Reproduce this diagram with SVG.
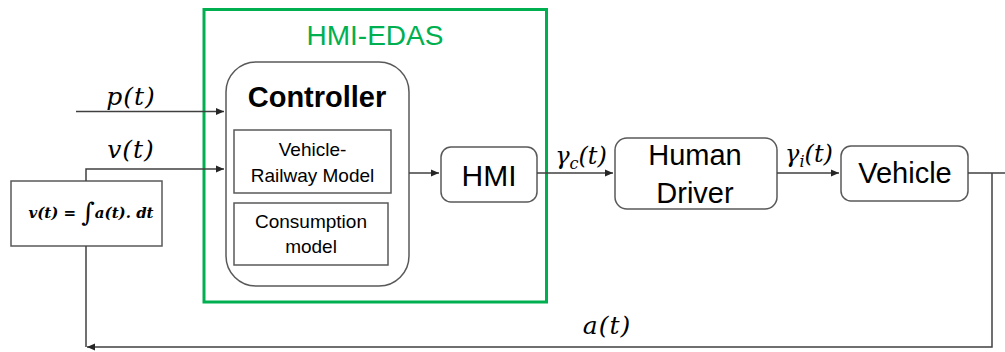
<svg xmlns="http://www.w3.org/2000/svg" width="1005" height="352" viewBox="0 0 1005 352">
<style>
.box{fill:#fff;stroke:#595959;stroke-width:1.5}
.ln{fill:none;stroke:#404040;stroke-width:1.5}
.t{font-family:"Liberation Sans",Arial,sans-serif;fill:#000;text-anchor:middle}
.m{font-family:"DejaVu Serif","Liberation Serif",serif;font-style:italic;fill:#000;text-anchor:middle}
</style>
<defs>
<marker id="ah" markerUnits="userSpaceOnUse" markerWidth="9" markerHeight="8" refX="8" refY="4" orient="auto">
<path d="M0,0.5 L8,4 L0,7.5 Z" fill="#262626"/>
</marker>
</defs>
<rect width="1005" height="352" fill="#fff"/>
<g id="hmi-edas">
<rect x="204" y="9.5" width="342.5" height="292.5" fill="none" stroke="#00b050" stroke-width="3"/>
<text x="375" y="45" class="t" style="fill:#00b050;font-size:28px">HMI-EDAS</text>
</g>
<g id="controller">
<rect x="226" y="62" width="183" height="224" rx="30" class="box"/>
<text x="317" y="107" class="t" style="font-size:29px;font-weight:bold">Controller</text>
</g>
<g id="vehicle-railway-model">
<rect x="234" y="130" width="157" height="63" class="box"/>
<text x="312.5" y="156" class="t" style="font-size:19px">Vehicle-</text>
<text x="312.5" y="182" class="t" style="font-size:19px">Railway Model</text>
</g>
<g id="consumption-model">
<rect x="234" y="203" width="154" height="62" class="box"/>
<text x="311" y="228" class="t" style="font-size:19px">Consumption</text>
<text x="311" y="253" class="t" style="font-size:19px">model</text>
</g>
<g id="hmi">
<rect x="441" y="147" width="96" height="55" rx="10" class="box"/>
<text x="489" y="186" class="t" style="font-size:30px">HMI</text>
</g>
<g id="human-driver">
<rect x="615" y="138" width="162" height="71" rx="12" class="box"/>
<text x="695" y="165" class="t" style="font-size:29px">Human</text>
<text x="695" y="203" class="t" style="font-size:29px">Driver</text>
</g>
<g id="vehicle">
<rect x="841" y="146" width="127" height="55" rx="10" class="box"/>
<text x="905" y="183" class="t" style="font-size:29px">Vehicle</text>
</g>
<g id="integrator">
<rect x="11" y="181" width="151" height="65" class="box"/>
<text x="91" y="218" class="m" style="font-size:15px;font-weight:bold">v(t) = <tspan style="font-size:26px;font-weight:normal;font-style:normal" dy="3">∫</tspan><tspan dy="-3">a(t). dt</tspan></text>
</g>
<g id="connectors">
<path d="M76,111.5 H224" class="ln" marker-end="url(#ah)"/>
<path d="M86,181 V169 H224" class="ln" marker-end="url(#ah)"/>
<path d="M409,173 H439" class="ln" marker-end="url(#ah)"/>
<path d="M537,173 H613" class="ln" marker-end="url(#ah)"/>
<path d="M777,173 H839" class="ln" marker-end="url(#ah)"/>
<path d="M968,173 H1005" class="ln"/>
<path d="M992,173 V347 H87" class="ln" marker-end="url(#ah)"/>
<path d="M86,246 V347" class="ln"/>
</g>
<g id="labels">
<text x="131" y="105" class="m" style="font-size:25px;letter-spacing:1px">p(t)</text>
<text x="131" y="158" class="m" style="font-size:25px;letter-spacing:1px">v(t)</text>
<text x="581" y="164" class="m" style="font-size:24px">γ<tspan dy="5" style="font-size:16px">c</tspan><tspan dy="-5">(t)</tspan></text>
<text x="809" y="162" class="m" style="font-size:24px">γ<tspan dy="5" style="font-size:16px">i</tspan><tspan dy="-5">(t)</tspan></text>
<text x="607" y="334" class="m" style="font-size:25px;letter-spacing:1px">a(t)</text>
</g>
</svg>
